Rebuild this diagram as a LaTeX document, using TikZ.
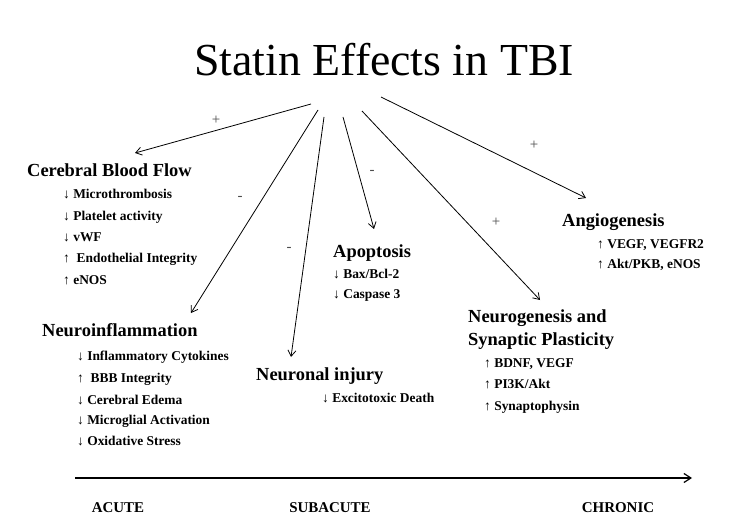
\documentclass[tikz,border=0pt]{standalone}
\usetikzlibrary{arrows.meta}
\usepackage{fontspec}
\setmainfont{Liberation Serif}[BoldFont={Liberation Serif Bold}]
\begin{document}
\begin{tikzpicture}[x=1bp,y=-1bp,
 head/.style={anchor=west,font=\bfseries\fontsize{18.5}{20}\selectfont,inner sep=0,text height=13bp,text depth=4bp},
 item/.style={anchor=west,font=\bfseries\fontsize{13.5}{15}\selectfont,inner sep=0,text height=10bp,text depth=3bp},
 tl/.style={font=\bfseries\fontsize{15}{17}\selectfont,inner sep=0},
 sgn/.style={font=\fontsize{15}{17}\selectfont,text=black!70,inner sep=0},
 arr/.style={-{Straight Barb[length=6bp,width=8bp]},line width=0.8bp}]
\useasboundingbox[clip] (0,0) rectangle (738,528);
\fill[white] (0,0) rectangle (738,528);
\node[font=\fontsize{46}{50}\selectfont,inner sep=0] (title) at (384,60) {Statin Effects in TBI};
% headings
\node[head] (cbf) at (27,172) {Cerebral Blood Flow};
\node[item] (c1) at (63,195) {↓ Microthrombosis};
\node[item] (c2) at (63,217) {↓ Platelet activity};
\node[item] (c3) at (63,238) {↓ vWF};
\node[item] (c4) at (63,259) {↑\ \ Endothelial Integrity};
\node[item] (c5) at (63,281) {↑ eNOS};
\node[head] (ni) at (42,332) {Neuroinflammation};
\node[item] (n1) at (77,357) {↓ Inflammatory Cytokines};
\node[item] (n2) at (77,379) {↑\ \ BBB Integrity};
\node[item] (n3) at (77,401) {↓ Cerebral Edema};
\node[item] (n4) at (77,421) {↓ Microglial Activation};
\node[item] (n5) at (77,442) {↓ Oxidative Stress};
\node[head] (nj) at (256,376) {Neuronal injury};
\node[item] (j1) at (322,399) {↓ Excitotoxic Death};
\node[head] (ap) at (333,253) {Apoptosis};
\node[item] (a1) at (333,275) {↓ Bax/Bcl-2};
\node[item] (a2) at (333,295) {↓ Caspase 3};
\node[head] (ng) at (468,318) {Neurogenesis and};
\node[head] (ng2) at (468,341) {Synaptic Plasticity};
\node[item] (g1) at (484,364) {↑ BDNF, VEGF};
\node[item] (g2) at (484,385) {↑ PI3K/Akt};
\node[item] (g3) at (484,407) {↑ Synaptophysin};
\node[head] (ag) at (562,222) {Angiogenesis};
\node[item] (ag1) at (597,245) {↑ VEGF, VEGFR2};
\node[item] (ag2) at (597,265) {↑ Akt/PKB, eNOS};
% arrow sources and targets
\coordinate (s1) at (311,104); \coordinate (t1) at (135,153);
\coordinate (s2) at (318,110); \coordinate (t2) at (191,313);
\coordinate (s3) at (324,117); \coordinate (t3) at (291,357);
\coordinate (s4) at (343,117); \coordinate (t4) at (374,229);
\coordinate (s5) at (362,111); \coordinate (t5) at (540,300);
\coordinate (s6) at (381,97);  \coordinate (t6) at (586,198);
\foreach \i in {1,...,6} \draw[arr] (s\i) -- (t\i);
\node[sgn] (p1) at (216,120) {+};
\node[sgn] (p2) at (240,198) {-};
\node[sgn] (p3) at (289,249) {-};
\node[sgn] (p4) at (372,172) {-};
\node[sgn] (p5) at (496,222) {+};
\node[sgn] (p6) at (534,145) {+};
% timeline
\coordinate (ta) at (75,478); \coordinate (tb) at (692,478);
\draw[-{Straight Barb[length=7bp,width=9bp]},line width=1.2bp] (ta) -- (tb);
\node[tl] (acute) at (118,508) {ACUTE};
\node[tl] (sub) at (330,508) {SUBACUTE};
\node[tl] (chr) at (618,508) {CHRONIC};
\end{tikzpicture}
\end{document}
